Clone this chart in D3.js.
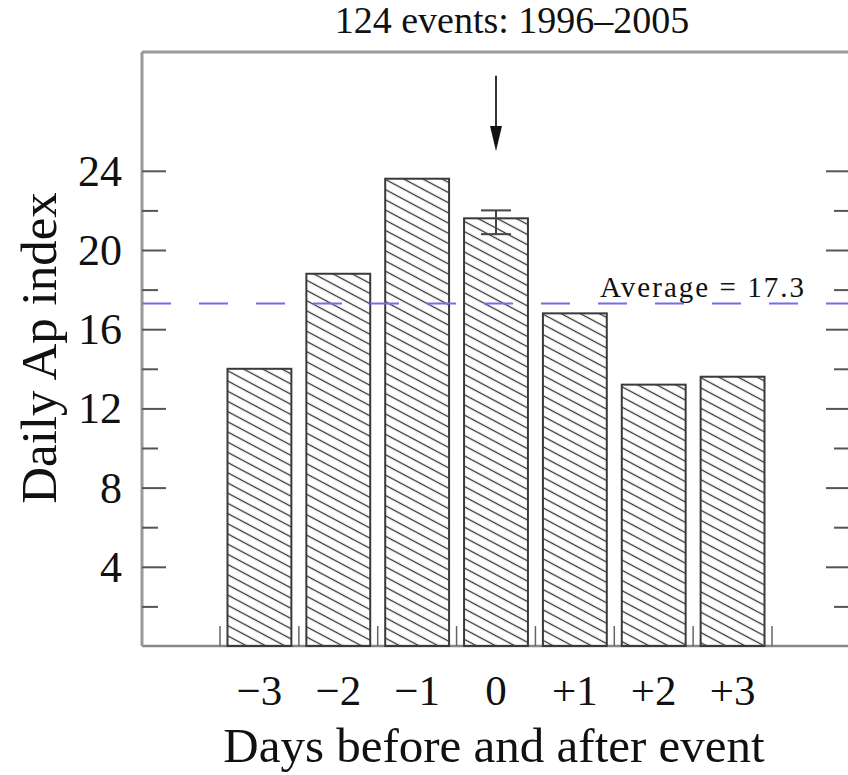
<!DOCTYPE html>
<html>
<head>
<meta charset="utf-8">
<script src="https://cdn.jsdelivr.net/npm/d3@7"></script>
<style>
  body { margin: 0; background: #fff; }
  text { font-family: "Liberation Serif", "DejaVu Serif", serif; fill: #111; }
</style>
</head>
<body>
<div id="holder"></div>
<script>
const w = 848;
const h = 775;

// DATA
const days = ["\u22123", "\u22122", "\u22121", "0", "+1", "+2", "+3"];
const apValues = [14.0, 18.8, 23.6, 21.6, 16.8, 13.2, 13.6];
const errorDay = "0";
const errorRange = [20.8, 22.0];
const average = 17.3;
const yTicks = [4, 8, 12, 16, 20, 24];
const yMinorTicks = [2, 6, 10, 14, 18, 22];
const arrowRange = [28.8, 25.0];
const titleText = "124 events: 1996\u20132005";

// CREATE SVG
const svg = d3.select("#holder")
    .append("svg")
    .attr("width", w)
    .attr("height", h)

// HATCH PATTERN
svg.append("defs")
    .append("pattern")
    .attr("id", "hatch")
    .attr("patternUnits", "userSpaceOnUse")
    .attr("width", 9)
    .attr("height", 9)
    .attr("patternTransform", "rotate(28)")
    .append("line")
    .attr("x1", 0).attr("y1", 4.5)
    .attr("x2", 9).attr("y2", 4.5)
    .attr("stroke", "#333")
    .attr("stroke-width", 1.3)

// SCALES
const x = d3.scaleBand()
    .domain(days)
    .range([220, 772])
    .paddingInner(0.19)
    .paddingOuter(0.095)

const y = d3.scaleLinear()
    .domain([0, 30])
    .range([646, 52])

const left = 142, right = 850;

// FRAME
svg.append("line")
    .attr("x1", left).attr("x2", right)
    .attr("y1", y(30)).attr("y2", y(30))
    .attr("stroke", "#999").attr("stroke-width", 3)
svg.append("line")
    .attr("x1", left).attr("x2", right)
    .attr("y1", y(0)).attr("y2", y(0))
    .attr("stroke", "#888").attr("stroke-width", 2.5)
svg.append("line")
    .attr("x1", left).attr("x2", left)
    .attr("y1", y(30)).attr("y2", y(0))
    .attr("stroke", "#999").attr("stroke-width", 3)

// Y AXIS LEFT (major with labels, minor ticks)
const yAxisLeft = svg.append("g")
    .attr("transform", `translate(${left},0)`)
    .call(d3.axisRight(y).tickValues(yTicks).tickSize(24).tickFormat(""))
yAxisLeft.select(".domain").remove()
yAxisLeft.selectAll("line").attr("stroke", "#555").attr("stroke-width", 2)

const yMinorLeft = svg.append("g")
    .attr("transform", `translate(${left},0)`)
    .call(d3.axisRight(y).tickValues(yMinorTicks).tickSize(16).tickFormat(""))
yMinorLeft.select(".domain").remove()
yMinorLeft.selectAll("line").attr("stroke", "#555").attr("stroke-width", 2)

svg.append("g")
    .selectAll("text")
    .data(yTicks)
    .enter()
    .append("text")
    .attr("x", 122)
    .attr("y", d => y(d) + 15)
    .attr("text-anchor", "end")
    .style("font-size", "44px")
    .text(d => d)

// Y AXIS RIGHT
const yAxisRight = svg.append("g")
    .attr("transform", `translate(${right},0)`)
    .call(d3.axisLeft(y).tickValues(yTicks).tickSize(24).tickFormat(""))
yAxisRight.select(".domain").remove()
yAxisRight.selectAll("line").attr("stroke", "#555").attr("stroke-width", 2)

const yMinorRight = svg.append("g")
    .attr("transform", `translate(${right},0)`)
    .call(d3.axisLeft(y).tickValues(yMinorTicks).tickSize(16).tickFormat(""))
yMinorRight.select(".domain").remove()
yMinorRight.selectAll("line").attr("stroke", "#555").attr("stroke-width", 2)

// X BAND BOUNDARY TICKS
const bounds = days.map(d => x(d) - x.step() * x.paddingInner() / 2)
bounds.push(x(days[days.length - 1]) + x.bandwidth() + x.step() * x.paddingInner() / 2)
svg.append("g")
    .selectAll("line")
    .data(bounds)
    .enter()
    .append("line")
    .attr("x1", d => d).attr("x2", d => d)
    .attr("y1", y(0)).attr("y2", y(0) - 20)
    .attr("stroke", "#666").attr("stroke-width", 1.5)

// BARS
svg.append("g")
    .selectAll("rect")
    .data(apValues)
    .enter()
    .append("rect")
    .attr("x", (d, i) => x(days[i]))
    .attr("y", d => y(d))
    .attr("width", x.bandwidth())
    .attr("height", d => y(0) - y(d))
    .attr("fill", "url(#hatch)")
    .attr("stroke", "#3a3a3a")
    .attr("stroke-width", 2)

// ERROR BAR
const ex = x(errorDay) + x.bandwidth() / 2;
svg.append("line")
    .attr("x1", ex).attr("x2", ex)
    .attr("y1", y(errorRange[0])).attr("y2", y(errorRange[1]))
    .attr("stroke", "#444").attr("stroke-width", 2)
svg.append("g")
    .selectAll("line")
    .data(errorRange)
    .enter()
    .append("line")
    .attr("x1", ex - 15).attr("x2", ex + 15)
    .attr("y1", d => y(d)).attr("y2", d => y(d))
    .attr("stroke", "#444").attr("stroke-width", 2)

// AVERAGE LINE
svg.append("line")
    .attr("x1", left).attr("x2", right)
    .attr("y1", y(average)).attr("y2", y(average))
    .attr("stroke", "#6f6ff2")
    .attr("stroke-width", 2)
    .attr("stroke-dasharray", "29,28")

svg.append("text")
    .attr("x", 600)
    .attr("y", y(average) - 6)
    .attr("textLength", 204)
    .attr("lengthAdjust", "spacing")
    .style("font-size", "29px")
    .text("Average = " + average)

// ARROW
svg.append("line")
    .attr("x1", ex).attr("x2", ex)
    .attr("y1", y(arrowRange[0])).attr("y2", y(arrowRange[1]) - 20)
    .attr("stroke", "#333").attr("stroke-width", 2)
svg.append("path")
    .attr("d", `M${ex - 6},${y(arrowRange[1]) - 25} L${ex + 6},${y(arrowRange[1]) - 25} L${ex},${y(arrowRange[1])} Z`)
    .attr("fill", "#111")

// X TICK LABELS
svg.append("g")
    .selectAll("text")
    .data(days)
    .enter()
    .append("text")
    .attr("x", d => x(d) + x.bandwidth() / 2)
    .attr("y", 705)
    .attr("text-anchor", "middle")
    .style("font-size", "43px")
    .text(d => d)

// TITLES
svg.append("text")
    .attr("x", 512)
    .attr("y", 33)
    .attr("text-anchor", "middle")
    .style("font-size", "38px")
    .text(titleText)

svg.append("text")
    .attr("x", 494)
    .attr("y", 762)
    .attr("text-anchor", "middle")
    .style("font-size", "49px")
    .text("Days before and after event")

svg.append("text")
    .attr("transform", "translate(56,348) rotate(-90)")
    .attr("text-anchor", "middle")
    .style("font-size", "51px")
    .text("Daily Ap index")
</script>
</body>
</html>
